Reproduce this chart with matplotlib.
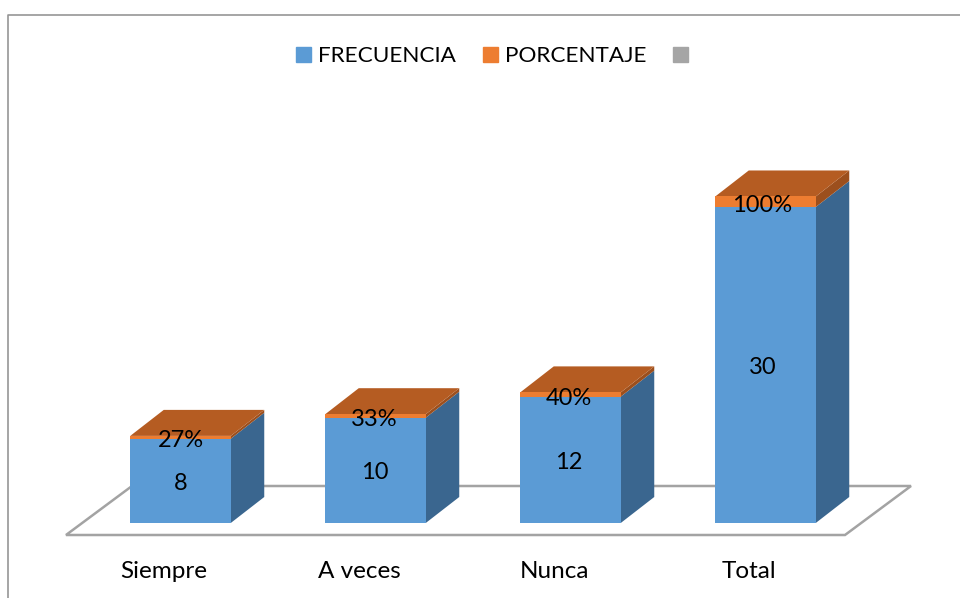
import matplotlib
matplotlib.use("Agg")
import matplotlib.pyplot as plt
from matplotlib.lines import Line2D
from matplotlib.patches import Patch, Polygon

categories = ["Siempre", "A veces", "Nunca", "Total"]
frecuencia = [8, 10, 12, 30]
porcentaje = [0.27, 0.33, 0.40, 1.00]
pct_labels = ["27%", "33%", "40%", "100%"]

BLUE = "#5B9BD5"
BLUE_SIDE = "#3A668F"
ORANGE = "#ED7D31"
ORANGE_TOP = "#B55C22"
ORANGE_SIDE = "#9C4F1D"
GRAY = "#A5A5A5"
FLOOR = "#A3A3A3"

W, H = 960, 598
BASE_PX = 523
PX_PER_UNIT = 10.533
PX_PER_CAT = 195.0
X0_PX = 180.5

plt.rcParams["font.family"] = ["Lato", "DejaVu Sans"]

fig = plt.figure(figsize=(W / 100, H / 100), dpi=100)
ax = fig.add_axes([0, (H - BASE_PX) / H, 1, BASE_PX / H])
ax.set_xlim(-X0_PX / PX_PER_CAT, (W - X0_PX) / PX_PER_CAT)
ax.set_ylim(0, BASE_PX / PX_PER_UNIT)
for s in ax.spines.values():
    s.set_visible(False)
ax.set_yticks([])

# depth of the fake 3d, in data units
dx = 33.5 / PX_PER_CAT
dy = 26 / PX_PER_UNIT
half = 50.25 / PX_PER_CAT

# floor
fx0 = -114.5 / PX_PER_CAT
fx1 = (845 - X0_PX) / PX_PER_CAT
fy0 = -12 / PX_PER_UNIT
fdx = 66 / PX_PER_CAT
fdy = 49 / PX_PER_UNIT
ax.add_patch(Polygon([(fx0, fy0), (fx1, fy0), (fx1 + fdx, fy0 + fdy), (fx0 + fdx, fy0 + fdy)],
                     closed=True, fc="white", ec=FLOOR, lw=1.8, clip_on=False, zorder=1))

xs = list(range(len(categories)))
ax.bar(xs, frecuencia, width=2 * half, color=BLUE, zorder=3)
ax.bar(xs, porcentaje, width=2 * half, bottom=frecuencia, color=ORANGE, zorder=3)

for x, f, p in zip(xs, frecuencia, porcentaje):
    r = x + half
    l = x - half
    t = f + p
    ax.add_patch(Polygon([(r, 0), (r + dx, dy), (r + dx, f + dy), (r, f)], fc=BLUE_SIDE, ec="none", zorder=2.5))
    ax.add_patch(Polygon([(r, f), (r + dx, f + dy), (r + dx, t + dy), (r, t)], fc=ORANGE_SIDE, ec="none", zorder=2.5))
    ax.add_patch(Polygon([(l, t), (r, t), (r + dx, t + dy), (l + dx, t + dy)], fc=ORANGE_TOP, ec="none", zorder=2.5))

for x, f, p, lab in zip(xs, frecuencia, porcentaje, pct_labels):
    ax.text(x - 0.005 * x, f / 2 - 0.05, str(f), ha="center", va="center_baseline", fontsize=17, color="black", zorder=5)
    ax.text(x - 0.005 * x, f + p / 2 - 0.15, lab, ha="center", va="center_baseline", fontsize=17, color="black", zorder=5)

ax.set_xticks([x - 16.5 / PX_PER_CAT for x in xs])
ax.set_xticklabels(categories, fontsize=17.5)
ax.tick_params(axis="x", length=0, pad=27.6)

# chart frame, only top and left show
fig.add_artist(Line2D([7.5 / W, 7.5 / W, 1], [0, 1 - 15 / H, 1 - 15 / H], color="#969696", lw=1.2))

handles = [Patch(color=BLUE), Patch(color=ORANGE), Patch(color=GRAY)]
fig.legend(handles, ["FRECUENCIA", "PORCENTAJE", ""], loc="center", bbox_to_anchor=(495.5 / W, 1 - 56 / H),
           ncol=3, frameon=False, fontsize=16.2, handlelength=0.66, handleheight=0.66,
           handletextpad=0.31, columnspacing=1.2)

fig.savefig("out.png", dpi=100)
